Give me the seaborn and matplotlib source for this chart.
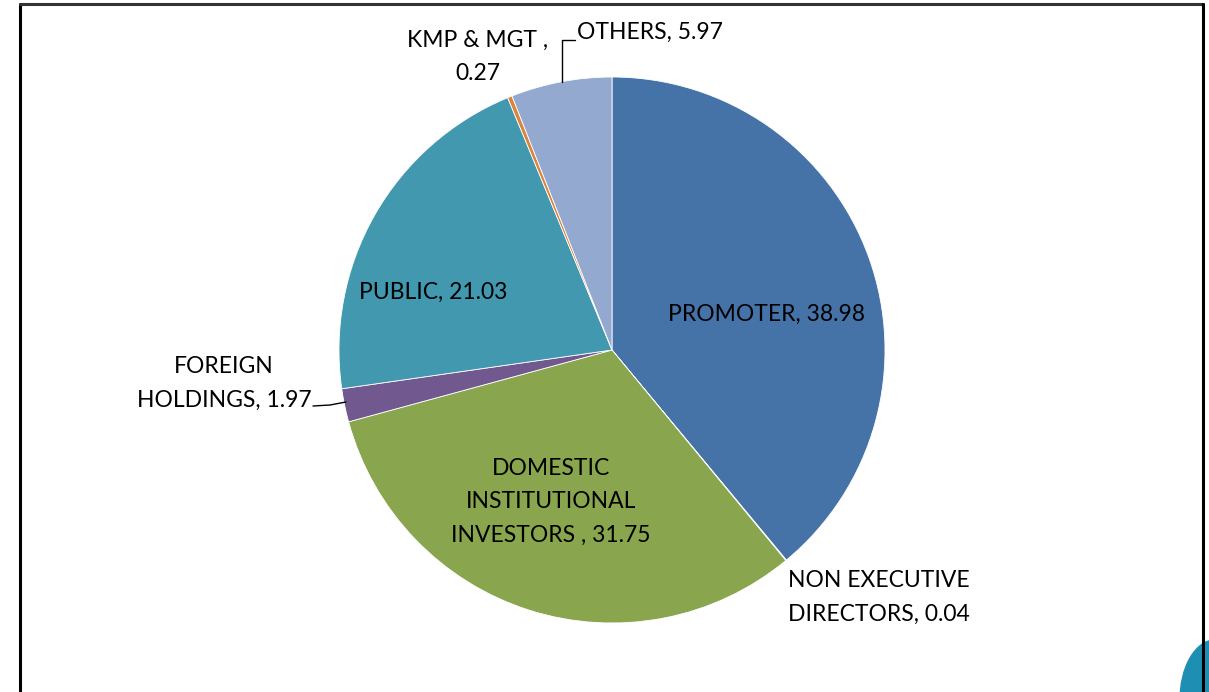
import matplotlib
matplotlib.use("Agg")
import matplotlib.pyplot as plt
import seaborn as sns
from matplotlib.patches import Ellipse

# shareholding pattern (%)
categories = [
    "PROMOTER",
    "NON EXECUTIVE\nDIRECTORS",
    "DOMESTIC\nINSTITUTIONAL\nINVESTORS ",
    "FOREIGN\nHOLDINGS",
    "PUBLIC",
    "KMP & MGT ",
    "OTHERS",
]
values = [38.98, 0.04, 31.75, 1.97, 21.03, 0.27, 5.97]
colors = ["#4572A7", "#AA4643", "#89A54E", "#71588F", "#4198AF", "#DB843D", "#93A9CF"]

sns.set_theme(style="white")
plt.rcParams["font.family"] = ["Lato", "DejaVu Sans"]

W, H = 1209, 692
fig = plt.figure(figsize=(W / 100, H / 100), dpi=100)
ax = fig.add_axes([0, 0, 1, 1])

# work in pixel coordinates (y up)
cx, cy, r = 612, H - 350, 273
ax.pie(
    values,
    colors=sns.color_palette(colors),
    startangle=90,
    counterclock=False,
    center=(cx, cy),
    radius=r,
    wedgeprops=dict(edgecolor="white", linewidth=0.6),
)
ax.set_xlim(0, W)
ax.set_ylim(0, H)
ax.set_aspect("equal")
ax.axis("off")

# label text, KMP wraps after the comma
labels = [f"{c}, {v:.2f}" for c, v in zip(categories, values)]
labels[5] = f"{categories[5]},\n{values[5]:.2f}"
label_pos = [(767, 314), (879, 597), (551, 502), (224, 383),
             (433, 292), (478, 57), (650, 32)]

for s, (x, y) in zip(labels, label_pos):
    ax.text(x, H - y, s, ha="center", va="center", fontsize=16.5,
            color="black", linespacing=1.75)

# leader lines
ax.plot([562, 562, 575], [H - 82, H - 40, H - 40], color="black", lw=1)
ax.plot([313, 330, 346], [H - 406, H - 405, H - 402], color="black", lw=1)

# slide frame
ax.plot([20, 20], [0, H - 4], color="black", lw=2.2, clip_on=False)
ax.plot([20, 1203], [H - 4, H - 4], color="#333333", lw=2.2, clip_on=False)
ax.plot([1203, 1203], [0, H - 4], color="black", lw=2.2, clip_on=False)

# background decoration peeking at bottom right
ax.add_patch(Ellipse((1215, H - 700), 70, 120, color="#1E8FB2", zorder=0))

fig.savefig("out.png", dpi=100)
